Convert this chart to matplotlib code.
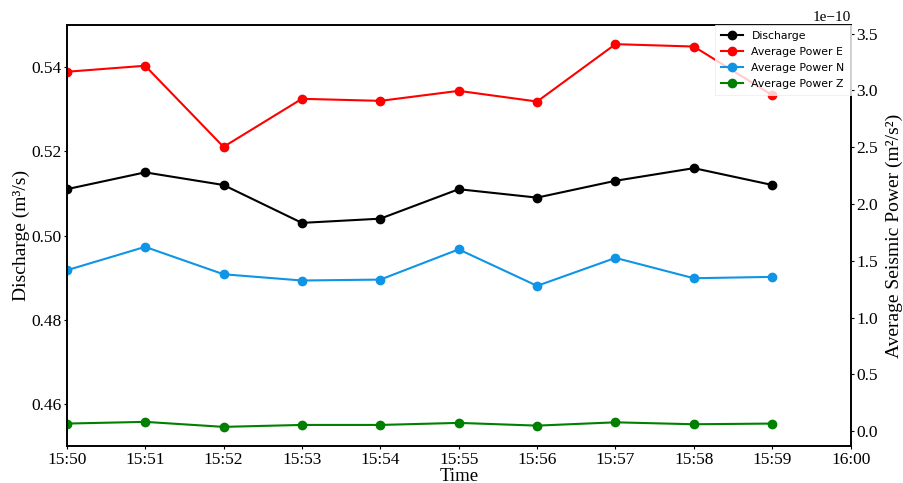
import matplotlib
matplotlib.use("Agg")
import matplotlib.pyplot as plt
import matplotlib.dates as mdates
import pandas as pd

# Minute-by-minute observations
times = ["15:50", "15:51", "15:52", "15:53", "15:54",
         "15:55", "15:56", "15:57", "15:58", "15:59"]
discharge = [0.511, 0.515, 0.512, 0.503, 0.504, 0.511, 0.509, 0.513, 0.516, 0.512]
power_e = [3.164e-10, 3.217e-10, 2.503e-10, 2.926e-10, 2.908e-10,
           2.996e-10, 2.902e-10, 3.407e-10, 3.386e-10, 2.958e-10]
power_n = [1.417e-10, 1.623e-10, 1.382e-10, 1.327e-10, 1.335e-10,
           1.601e-10, 1.280e-10, 1.526e-10, 1.347e-10, 1.359e-10]
power_z = [0.068e-10, 0.083e-10, 0.039e-10, 0.056e-10, 0.056e-10,
           0.074e-10, 0.050e-10, 0.079e-10, 0.062e-10, 0.068e-10]

t = pd.to_datetime(["2023-01-01 " + s for s in times])
t_start = pd.Timestamp("2023-01-01 15:50")
t_end = pd.Timestamp("2023-01-01 16:00")

serif = "Liberation Serif"

fig = plt.figure(figsize=(9.04, 4.83), dpi=100)
ax = fig.add_axes([0.0738, 0.0766, 0.8672, 0.8716])
ax2 = ax.twinx()

l1, = ax.plot(t, discharge, color="black", marker="o", markersize=6,
              linewidth=1.5, label="Discharge")
l2, = ax2.plot(t, power_e, color="#ff0000", marker="o", markersize=6,
               linewidth=1.5, label="Average Power E")
l3, = ax2.plot(t, power_n, color="#0f94e6", marker="o", markersize=6,
               linewidth=1.5, label="Average Power N")
l4, = ax2.plot(t, power_z, color="#008000", marker="o", markersize=6,
               linewidth=1.5, label="Average Power Z")

ax.set_xlim(t_start, t_end)
ax.set_ylim(0.45, 0.55)
ax.set_yticks([0.46, 0.48, 0.50, 0.52, 0.54])
ax.xaxis.set_major_locator(mdates.MinuteLocator(interval=1))
ax.xaxis.set_major_formatter(mdates.DateFormatter("%H:%M"))

ax.set_xlabel("Time", fontfamily=serif, fontsize=13.5, labelpad=0)
ax.set_ylabel("Discharge (m³/s)", fontfamily=serif, fontsize=14, labelpad=1)
ax2.set_ylabel("Average Seismic Power (m²/s²)", fontfamily=serif,
               fontsize=14, labelpad=6)

for a in (ax, ax2):
    a.tick_params(labelsize=12.5, length=2.5, pad=1.5)
    for lab in a.get_xticklabels() + a.get_yticklabels():
        lab.set_fontfamily(serif)
    for sp in a.spines.values():
        sp.set_linewidth(1.2)
ax2.yaxis.get_offset_text().set_fontfamily(serif)
ax2.yaxis.get_offset_text().set_fontsize(11)

leg = ax2.legend(handles=[l1, l2, l3, l4], loc="upper right",
                 fontsize=7.8, borderaxespad=0.0, frameon=True,
                 fancybox=False, edgecolor="#eeeeee", framealpha=0.8,
                 handlelength=2.0, labelspacing=0.55, borderpad=0.55)
leg.get_frame().set_linewidth(0.8)

fig.savefig("out.png", dpi=100)
